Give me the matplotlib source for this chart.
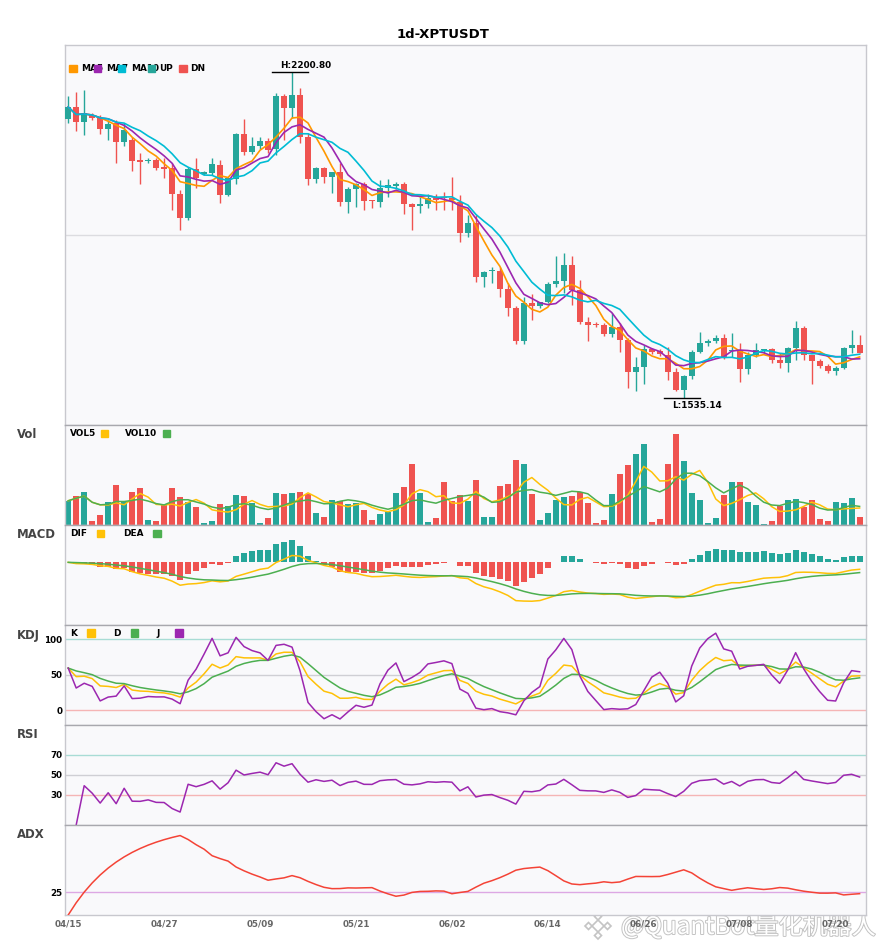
import numpy as np
import pandas as pd
import matplotlib
matplotlib.use("Agg")
import matplotlib.pyplot as plt
from matplotlib.patches import Rectangle, RegularPolygon
from matplotlib.transforms import IdentityTransform
import matplotlib.patheffects as pe

# ----------------------------
# DATA
# ----------------------------
SYMBOL = "1d-XPTUSDT"
START_DATE = "2025-04-15"

opens = [2104.2, 2128.7, 2098.1, 2112.4, 2106.3, 2083.8, 2096.0, 2057.2, 2061.3, 2019.5,
         2018.5, 2020.5, 2005.2, 2004.2, 1951.1, 1902.1, 2002.1, 1992.9, 1994.0, 2010.3,
         1949.0, 1981.7, 2073.6, 2036.8, 2049.1, 2059.3, 2043.0, 2151.2, 2126.7, 2153.2,
         2067.5, 1981.7, 2004.2, 1985.8, 1996.0, 1934.7, 1961.3, 1971.5, 1937.8, 1934.7,
         1963.3, 1967.4, 1971.5, 1930.6, 1926.6, 1930.6, 1942.9, 1943.9, 1942.9, 1935.3,
         1871.4, 1891.9, 1781.6, 1792.8, 1793.8, 1757.1, 1718.3, 1650.9, 1728.5, 1722.4,
         1730.5, 1767.3, 1773.4, 1806.1, 1755.1, 1689.7, 1684.6, 1683.6, 1665.2, 1679.5,
         1652.9, 1587.6, 1597.8, 1634.6, 1630.5, 1622.3, 1587.6, 1550.8, 1579.4, 1628.5,
         1646.8, 1650.9, 1657.0, 1630.5, 1632.5, 1593.8, 1622.3, 1631.5, 1634.6, 1612.1,
         1606.0, 1636.6, 1677.5, 1622.3, 1610.1, 1599.9, 1589.7, 1595.8, 1636.6, 1642.8]

highs = [2151.2, 2159.3, 2163.4, 2116.5, 2112.4, 2102.2, 2102.2, 2096.0, 2067.5, 2034.8,
         2024.6, 2024.6, 2024.6, 2014.4, 1959.2, 2006.2, 2024.6, 1998.1, 2024.6, 2020.5,
         1985.8, 2075.6, 2104.2, 2067.5, 2067.5, 2065.4, 2157.3, 2155.3, 2200.8, 2167.5,
         2075.6, 2006.2, 2006.2, 1997.0, 2014.4, 1965.4, 1973.5, 1975.6, 1938.8, 1979.7,
         1981.7, 1975.6, 1975.6, 1932.7, 1944.9, 1951.1, 1951.1, 1955.2, 1985.8, 1949.0,
         1908.2, 1908.2, 1793.8, 1802.0, 1802.0, 1769.3, 1722.4, 1740.7, 1746.9, 1730.5,
         1771.4, 1824.5, 1830.6, 1824.5, 1775.5, 1699.9, 1689.7, 1687.7, 1708.1, 1687.7,
         1657.0, 1618.2, 1642.8, 1636.6, 1634.6, 1638.7, 1595.8, 1581.5, 1632.5, 1669.3,
         1655.0, 1663.2, 1665.2, 1667.2, 1646.8, 1628.5, 1646.8, 1635.2, 1636.6, 1626.4,
         1638.7, 1691.7, 1681.5, 1622.3, 1614.2, 1604.0, 1599.9, 1638.7, 1673.4, 1663.2]

lows = [2096.0, 2079.7, 2071.5, 2102.2, 2073.6, 2061.3, 2014.4, 2049.1, 1998.1, 1971.5,
        2014.4, 2000.1, 1983.7, 1918.4, 1877.6, 1898.0, 1963.3, 1989.9, 1989.9, 1932.7,
        1947.0, 1971.5, 2030.7, 2032.7, 2043.0, 2034.8, 2030.7, 2061.3, 2106.3, 2055.2,
        1969.5, 1973.5, 1973.5, 1953.1, 1926.6, 1912.3, 1924.5, 1918.4, 1922.5, 1924.5,
        1944.9, 1961.3, 1910.2, 1877.6, 1912.3, 1922.5, 1918.4, 1918.4, 1918.4, 1853.7,
        1863.3, 1771.4, 1761.2, 1769.3, 1740.7, 1702.0, 1644.8, 1644.8, 1693.8, 1718.3,
        1728.5, 1761.2, 1748.9, 1724.4, 1685.6, 1650.9, 1679.5, 1661.1, 1659.1, 1628.4,
        1554.9, 1548.8, 1563.1, 1624.4, 1620.3, 1571.3, 1548.8, 1535.14, 1573.3, 1626.4,
        1640.7, 1646.8, 1614.2, 1618.2, 1567.2, 1583.5, 1618.2, 1626.4, 1606.0, 1595.8,
        1587.6, 1612.1, 1612.1, 1563.1, 1595.8, 1585.6, 1581.5, 1593.8, 1626.4, 1626.4]

closes = [2128.7, 2098.1, 2116.5, 2106.3, 2083.8, 2094.0, 2057.2, 2081.8, 2018.5, 2017.4,
          2020.5, 2004.2, 2003.1, 1951.1, 1902.1, 2002.1, 1983.7, 1995.0, 2012.3, 1949.0,
          1983.7, 2073.6, 2036.8, 2049.1, 2059.3, 2040.9, 2151.2, 2126.7, 2153.2, 2067.5,
          1981.7, 2004.2, 1985.8, 1996.0, 1934.7, 1961.3, 1971.5, 1936.8, 1935.8, 1963.3,
          1969.5, 1971.5, 1930.6, 1924.5, 1930.6, 1942.9, 1938.8, 1941.9, 1938.8, 1872.0,
          1891.9, 1781.6, 1791.8, 1794.9, 1757.1, 1718.3, 1650.9, 1728.5, 1722.4, 1730.5,
          1767.3, 1773.4, 1806.1, 1755.1, 1689.7, 1683.6, 1682.6, 1665.2, 1679.5, 1652.9,
          1587.6, 1597.8, 1634.6, 1628.5, 1624.4, 1587.6, 1550.8, 1579.4, 1628.5, 1646.8,
          1650.9, 1657.0, 1616.2, 1632.5, 1593.8, 1622.3, 1632.5, 1633.6, 1612.1, 1606.0,
          1636.6, 1677.5, 1622.3, 1610.1, 1599.9, 1589.7, 1595.8, 1636.6, 1642.8, 1626.4]

volumes = [24, 29, 33, 4, 10, 23, 40, 23, 33, 37,
           5, 4, 20, 37, 28, 23, 18, 2, 4, 21,
           19, 30, 29, 22, 2, 7, 32, 31, 32, 33,
           31, 12, 8, 25, 24, 21, 22, 15, 5, 11,
           13, 32, 38, 60, 32, 3, 7, 43, 24, 30,
           24, 45, 8, 8, 39, 41, 64, 60, 31, 5,
           12, 25, 28, 29, 33, 22, 2, 5, 31, 50,
           59, 70, 80, 3, 6, 60, 90, 63, 32, 25,
           2, 7, 30, 43, 43, 23, 20, 1, 4, 19,
           25, 26, 18, 25, 6, 4, 23, 22, 27, 8]

# ----------------------------
# STYLE
# ----------------------------
UP = "#26A69A"
DN = "#EF5350"
C_MA5 = "#FF9800"
C_MA7 = "#9C27B0"
C_MA10 = "#00BCD4"
YEL = "#FFC107"
GRN = "#4CAF50"
PUR = "#9C27B0"
BG = "#F9F9FB"
SPINE = "#C8C8CE"
SEP = "#A8A8AE"
W, H = 885, 950

# ----------------------------
# INDICATORS
# ----------------------------
df = pd.DataFrame({"open": opens, "high": highs, "low": lows,
                   "close": closes, "volume": volumes})
df.index = pd.date_range(START_DATE, periods=len(df), freq="D")
n = len(df)
x = np.arange(n)
c = df["close"]

ma5 = c.rolling(5, min_periods=1).mean()
ma7 = c.rolling(7, min_periods=1).mean()
ma10 = c.rolling(10, min_periods=1).mean()
vol5 = df["volume"].rolling(5, min_periods=1).mean()
vol10 = df["volume"].rolling(10, min_periods=1).mean()

dif = c.ewm(span=12, adjust=False).mean() - c.ewm(span=26, adjust=False).mean()
dea = dif.ewm(span=9, adjust=False).mean()
hist = 2 * (dif - dea)

low9 = df["low"].rolling(9, min_periods=1).min()
high9 = df["high"].rolling(9, min_periods=1).max()
rsv = (c - low9) / (high9 - low9) * 100
k = rsv.ewm(com=2, adjust=False).mean()
d = k.ewm(com=2, adjust=False).mean()
j = 3 * k - 2 * d

delta = c.diff()
gain = delta.clip(lower=0).ewm(com=13, adjust=True).mean()
loss = (-delta.clip(upper=0)).ewm(com=13, adjust=True).mean()
rsi = 100 * gain / (gain + loss)

prev_c = c.shift(1)
tr = pd.concat([df["high"] - df["low"], (df["high"] - prev_c).abs(),
                (df["low"] - prev_c).abs()], axis=1).max(axis=1)
up_m = df["high"].diff()
dn_m = -df["low"].diff()
pdm = pd.Series(np.where((up_m > dn_m) & (up_m > 0), up_m, 0.0), index=df.index)
mdm = pd.Series(np.where((dn_m > up_m) & (dn_m > 0), dn_m, 0.0), index=df.index)
atr = tr.ewm(span=14, adjust=False).mean()
pdi = 100 * pdm.ewm(span=14, adjust=False).mean() / atr
mdi = 100 * mdm.ewm(span=14, adjust=False).mean() / atr
dx = (100 * (pdi - mdi).abs() / (pdi + mdi)).fillna(0)
adx = dx.ewm(span=14, adjust=False).mean()

# ----------------------------
# FIGURE / AXES
# ----------------------------
fig = plt.figure(figsize=(W / 100, H / 100), dpi=100)
fig.patch.set_facecolor("white")


def pax(top, bottom, left=65, right=866):
    return fig.add_axes([left / W, 1 - bottom / H, (right - left) / W, (bottom - top) / H])


ax_p = pax(45, 425)
ax_v = pax(425, 525)
ax_m = pax(525, 625)
ax_k = pax(625, 725)
ax_r = pax(725, 825)
ax_a = pax(825, 915)
axes = [ax_p, ax_v, ax_m, ax_k, ax_r, ax_a]

for a in axes:
    a.set_facecolor(BG)
    a.set_xlim(-0.4, n - 0.2)
    for s in a.spines.values():
        s.set_color(SPINE)
        s.set_linewidth(1)
    a.tick_params(axis="both", length=0, pad=2, labelsize=6.3)
    a.set_xticks(x[::12])
    a.set_xticklabels([])
for a in axes[1:]:
    a.spines["top"].set_color(SEP)
for a in [ax_p, ax_v, ax_m]:
    a.set_yticks([])

# price panel
up_mask = df["close"] >= df["open"]
colors = np.where(up_mask, UP, DN)
body_lo = np.minimum(df["open"], df["close"])
body_h = (df["close"] - df["open"]).abs().clip(lower=1.2)
ax_p.vlines(x, df["low"], df["high"], colors=colors, linewidth=1, zorder=2)
ax_p.bar(x, body_h, bottom=body_lo, width=0.75, color=colors, zorder=3)
ax_p.plot(x, ma5, color=C_MA5, lw=1.2, zorder=4)
ax_p.plot(x, ma7, color=C_MA7, lw=1.2, zorder=4)
ax_p.plot(x, ma10, color=C_MA10, lw=1.2, zorder=4)
lo, hi = df["low"].min(), df["high"].max()
rng = hi - lo
ax_p.set_ylim(lo - 0.084 * rng, hi + 0.082 * rng)
ax_p.axhline((hi + lo) / 2, color="#DCDCE0", lw=1, zorder=1)

ih = int(df["high"].values.argmax())
il = int(df["low"].values.argmin())
ax_p.plot([ih - 2.5, ih + 2.0], [hi, hi], color="black", lw=1, zorder=5)
ax_p.text(ih - 1.45, hi + 0.006 * rng, f"H:{hi:.2f}", fontsize=6.4, fontweight="bold",
          ha="left", va="bottom", zorder=5)
ax_p.plot([il - 2.5, il + 2.0], [lo, lo], color="black", lw=1, zorder=5)
ax_p.text(il - 1.45, lo - 0.01 * rng, f"L:{lo:.2f}", fontsize=6.4, fontweight="bold",
          ha="left", va="top", zorder=5)

# volume panel
ax_v.bar(x, df["volume"], width=0.75, color=colors, zorder=2)
ax_v.plot(x, vol5, color=YEL, lw=1.1, zorder=3)
ax_v.plot(x, vol10, color=GRN, lw=1.1, zorder=3)
ax_v.set_ylim(0, df["volume"].max() * 1.1)

# macd panel
ax_m.bar(x, hist, width=0.75, color=np.where(hist >= 0, UP, DN), zorder=2)
ax_m.plot(x, dif, color=YEL, lw=1.1, zorder=3)
ax_m.plot(x, dea, color=GRN, lw=1.1, zorder=3)
mlo = min(dif.min(), dea.min(), hist.min())
mhi = max(dif.max(), dea.max(), hist.max())
mr = mhi - mlo
ax_m.set_ylim(mlo - 0.39 * mr, mhi + 0.25 * mr)

# kdj panel
ax_k.axhline(100, color="#A8DCD5", lw=1, zorder=1)
ax_k.axhline(50, color="#CFCFD4", lw=1, zorder=1)
ax_k.axhline(0, color="#F5B5B5", lw=1, zorder=1)
ax_k.plot(x, k, color=YEL, lw=1.1, zorder=3)
ax_k.plot(x, d, color=GRN, lw=1.1, zorder=3)
ax_k.plot(x, j, color=PUR, lw=1.1, zorder=3)
ax_k.set_ylim(-21, 120)
ax_k.set_yticks([0, 50, 100])

# rsi panel
ax_r.axhline(70, color="#A8DCD5", lw=1, zorder=1)
ax_r.axhline(50, color="#CFCFD4", lw=1, zorder=1)
ax_r.axhline(30, color="#F5B5B5", lw=1, zorder=1)
ax_r.plot(x, rsi, color=PUR, lw=1.1, zorder=3)
ax_r.set_ylim(0, 100)
ax_r.set_yticks([30, 50, 70])

# adx panel
ax_a.axhline(25, color="#DDA8E4", lw=1, zorder=1)
ax_a.plot(x, adx, color="#F44336", lw=1.1, zorder=3)
ax_a.set_ylim(0, 98)
ax_a.set_yticks([25])

for a in [ax_k, ax_r, ax_a]:
    for t in a.get_yticklabels():
        t.set_fontweight("bold")

ax_a.set_xticklabels(df.index[::12].strftime("%m/%d"))
for t in ax_a.get_xticklabels():
    t.set_fontweight("bold")
    t.set_color("#666666")
ax_a.tick_params(axis="x", pad=3)

# ----------------------------
# TEXT: title, panel names, legends
# ----------------------------
def fx(px):
    return px / W


def fy(py):
    return 1 - py / H


fig.text(0.5, fy(34), SYMBOL, ha="center", va="center", fontsize=9.5, fontweight="bold")

for label, py in [("Vol", 435), ("MACD", 535), ("KDJ", 635), ("RSI", 734.5), ("ADX", 834.5)]:
    fig.text(fx(17), fy(py), label, ha="left", va="center", fontsize=8.4,
             fontweight="bold", color="#444444")


def legend_row(items, py):
    # items: (kind, x_px, text_or_color)
    for kind, px, val in items:
        if kind == "t":
            fig.text(fx(px), fy(py), val, ha="left", va="center", fontsize=6.4,
                     fontweight="bold", color="black", zorder=5)
        else:
            fig.add_artist(Rectangle((fx(px), fy(py + 3.6)), 7.2 / W, 7.2 / H,
                                     transform=fig.transFigure, color=val, zorder=6))


legend_row([("s", 69.3, C_MA5), ("t", 81.3, "MA5"), ("s", 94, C_MA7), ("t", 106.3, "MA7"),
            ("s", 118, C_MA10), ("t", 131.3, "MA10"), ("s", 148, UP), ("t", 158.7, "UP"),
            ("s", 179.3, DN), ("t", 189.7, "DN")], 68.8)
legend_row([("t", 70, "VOL5"), ("s", 101, YEL), ("t", 125, "VOL10"), ("s", 162.7, GRN)], 433.5)
legend_row([("t", 70, "DIF"), ("s", 97, YEL), ("t", 123.3, "DEA"), ("s", 153.3, GRN)], 533.7)
legend_row([("t", 70, "K"), ("s", 87.3, YEL), ("t", 113.3, "D"), ("s", 131, GRN),
            ("t", 156.7, "J"), ("s", 175.3, PUR)], 633)

# watermark (drawn under the axes so the date labels stay on top)
wm = fig.text(fx(621), fy(927), "@QuantBot量化机器人", ha="left", va="center", fontsize=17.5,
              color="white", family=["Noto Sans CJK SC", "DejaVu Sans"], zorder=-1)
wm.set_path_effects([pe.withStroke(linewidth=1.4, foreground="#C4C4C4")])
for dx_, dy_, s in [(0, 0, 6), (-9.5, 0, 3.5), (9.5, 0, 3.5), (0, -9.5, 3.5), (0, 9.5, 3.5)]:
    fig.add_artist(RegularPolygon((598 + dx_, H - 926 + dy_), 4, radius=s,
                                  orientation=0, transform=IdentityTransform(),
                                  facecolor="white", edgecolor="#C4C4C4", lw=1.2, zorder=-1))

fig.savefig("out.png", dpi=100)
